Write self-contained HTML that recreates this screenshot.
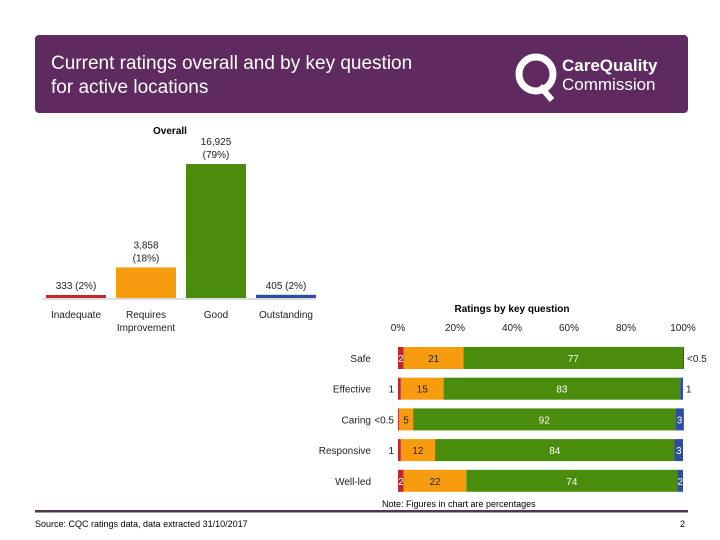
<!DOCTYPE html>
<html><head><meta charset="utf-8"><style>
body{margin:0;width:720px;height:540px;background:#fff;overflow:hidden;font-family:"Liberation Sans",sans-serif}
svg{position:absolute;left:0;top:0}
</style></head><body>
<svg width="720" height="540" font-family="Liberation Sans, sans-serif">
<rect x="35" y="35" width="653" height="78" rx="4" fill="#5e2a60"/>
<text x="51" y="69" font-size="19" fill="#fff">Current ratings overall and by key question</text>
<text x="51" y="93" font-size="19" fill="#fff">for active locations</text>
<g>
<circle cx="536" cy="74" r="17" fill="none" stroke="#fff" stroke-width="7"/>
<path d="M540 86 L552 100" stroke="#fff" stroke-width="6"/>
<text x="562" y="71" font-size="17" font-weight="bold" fill="#fff">CareQuality</text>
<text x="562" y="90" font-size="17" fill="#fff">Commission</text>
</g>
<g id="overall"></g>
<g id="keyq"></g>
<text x="382" y="507" font-size="9" fill="#000">Note: Figures in chart are percentages</text>
<rect x="35" y="510" width="653" height="2.5" fill="#4a3a4c"/>
<text x="35" y="527" font-size="9" fill="#000">Source: CQC ratings data, data extracted 31/10/2017</text>
<text x="680" y="527" font-size="9" fill="#000">2</text>
</svg>
<script>
const NS="http://www.w3.org/2000/svg";
const overallCats=["Inadequate","Requires|Improvement","Good","Outstanding"];
const overallVals=[333,3858,16925,405];
const overallLabels=["333 (2%)","3,858|(18%)","16,925|(79%)","405 (2%)"];
const overallColors=["#c0262d","#f79c0f","#4a8c0b","#2e4d9e"];
const kqCats=["Safe","Effective","Caring","Responsive","Well-led"];
const kqInadequate=[2,1,0.3,1,2];
const kqRequires=[21,15,5,12,22];
const kqGood=[77,83,92,84,74];
const kqOutstanding=[0.3,1,3,3,2];
const kqTicks=[0,20,40,60,80,100];
function mk(p,tag,a,txt){const e=document.createElementNS(NS,tag);for(const k in a)e.setAttribute(k,a[k]);if(txt!==undefined)e.textContent=txt;p.appendChild(e);return e;}
const og=document.getElementById('overall');
const base=298, yscale=v=>base-v*134/16925, xc=i=>76+i*70;
let t=mk(og,'text',{x:170,y:134,'font-size':10,'font-weight':'bold','text-anchor':'middle'},'Overall');

let ax=mk(og,'line',{x1:42,x2:316,y1:base+1,y2:base+1,stroke:'#bbb'});

overallVals.forEach((v,i)=>{
 const y=Math.min(yscale(v),base-3);
 const r=mk(og,'rect',{x:xc(i)-30,y:y,width:60,height:base-y,fill:overallColors[i]});
 
 
 const ls=overallLabels[i].split('|');
 ls.forEach((s,j)=>{const tt=mk(og,'text',{x:xc(i),y:y-6-(ls.length-1-j)*13,'font-size':10,'text-anchor':'middle',fill:'#222'},s);
  });
 overallCats[i].split('|').forEach((s,j)=>{const tt=mk(og,'text',{x:xc(i),y:318+j*13,'font-size':10,'text-anchor':'middle',fill:'#222'},s);
  });
});
const kg=document.getElementById('keyq');
const x0=398,x1=683,xs=v=>x0+v*(x1-x0)/100,rowY=i=>358+i*30.7;
t=mk(kg,'text',{x:512,y:312,'font-size':10,'font-weight':'bold','text-anchor':'middle'},'Ratings by key question');

kqTicks.forEach(v=>{const tt=mk(kg,'text',{x:xs(v),y:331,'font-size':10,'text-anchor':'middle',fill:'#222'},v+'%');
 });
const series=[kqInadequate,kqRequires,kqGood,kqOutstanding];
const sc=["#c0262d","#f79c0f","#4a8c0b","#2e4d9e"];
const tc=["#fff","#222","#fff","#fff"];
const fmt=v=>v<0.5?'<0.5':String(v);
kqCats.forEach((c,i)=>{
 const yc=rowY(i);
 let lab=mk(kg,'text',{x:371,y:yc+4,'font-size':10,'text-anchor':'end',fill:'#222'},c);
 
 let acc=0;
 series.forEach((s,k)=>{
  const v=s[i],xa=xs(acc),w=Math.max(xs(acc+v)-xa,1);
  const r=mk(kg,'rect',{x:xa,y:yc-11,width:w,height:22,fill:sc[k]});
  
  
  let lx,anchor='middle',col=tc[k];
  if(v>=2){lx=xa+w/2;}
  else if(k===0){lx=xa-4;anchor='end';col='#222';}
  else {lx=xa+w+3;anchor='start';col='#222';}
  const tt=mk(kg,'text',{x:lx,y:yc+4,'font-size':10,'text-anchor':anchor,fill:col},fmt(v));
  
  acc+=v;
 });
});
</script>
</body></html>
